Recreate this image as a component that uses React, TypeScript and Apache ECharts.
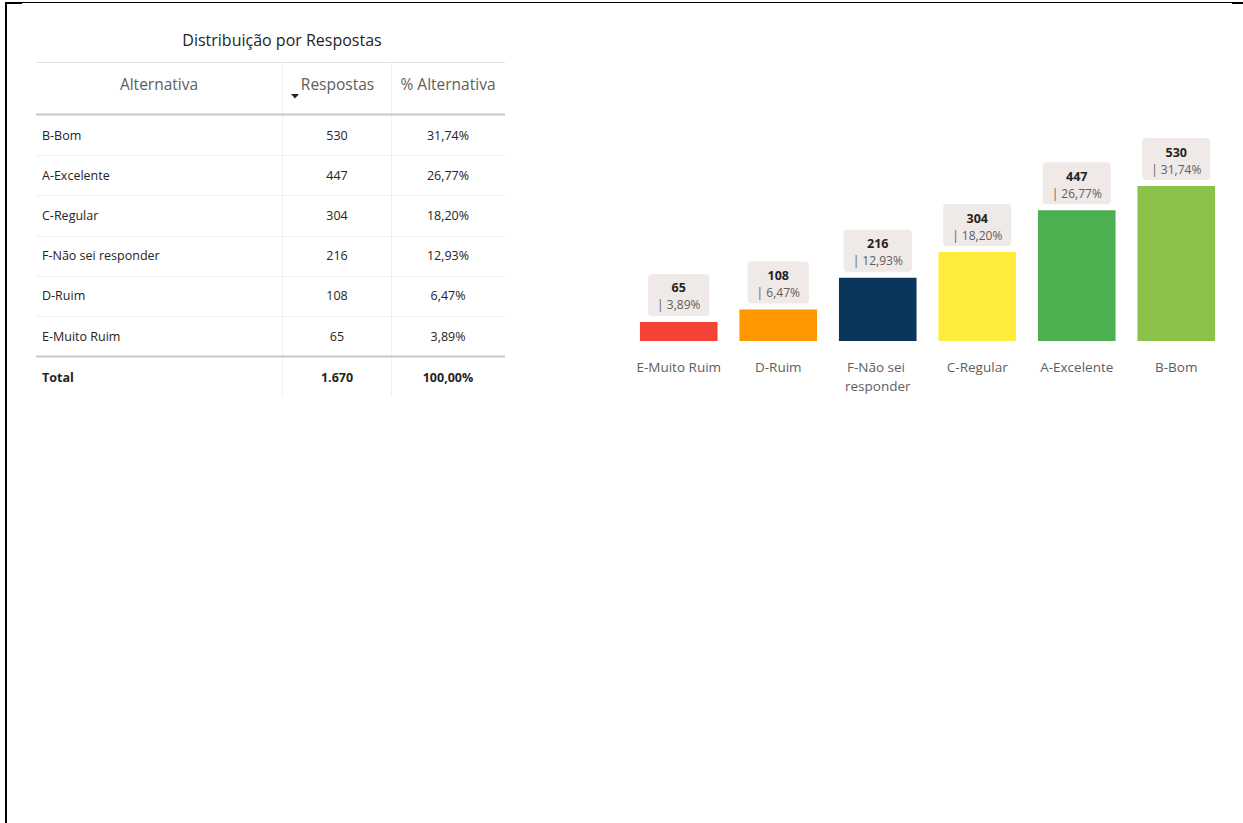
import React, { useEffect, useRef } from "react";
import * as echarts from "echarts";

// Table order (as shown in the table, sorted by responses desc)
const alternatives = ["B-Bom", "A-Excelente", "C-Regular", "F-Não sei responder", "D-Ruim", "E-Muito Ruim"];
const responses = [530, 447, 304, 216, 108, 65];
const responseLabels = ["530", "447", "304", "216", "108", "65"];
const percentLabels = ["31,74%", "26,77%", "18,20%", "12,93%", "6,47%", "3,89%"];
const totalLabel = "1.670";
const totalPercentLabel = "100,00%";
const barColors: Record<string, string> = {
  "E-Muito Ruim": "#F44336",
  "D-Ruim": "#FF9800",
  "F-Não sei responder": "#0B365C",
  "C-Regular": "#FFEB3B",
  "A-Excelente": "#4CAF50",
  "B-Bom": "#8BC34A",
};
const tableTitle = "Distribuição por Respostas";
const headers = ["Alternativa", "Respostas", "% Alternativa"];

const FONT = "'Open Sans', 'Noto Sans', sans-serif";

export default function App() {
  const ref = useRef<HTMLDivElement>(null);
  useEffect(() => {
    if (!ref.current) return;
    const chart = echarts.init(ref.current, undefined, { renderer: "svg" });

    // chart order: ascending by responses
    const idx = alternatives.map((_, i) => i).sort((a, b) => responses[a] - responses[b]);
    const chartCats = idx.map((i) => alternatives[i]);
    const chartData = idx.map((i) => ({
      value: responses[i],
      pct: percentLabels[i],
      itemStyle: { color: barColors[alternatives[i]] },
    }));

    const graphics: any[] = [];
    // page border
    graphics.push({ type: "rect", shape: { x: 5, y: 2, width: 1238, height: 1 }, style: { fill: "#000" } });
    graphics.push({ type: "rect", shape: { x: 5, y: 2, width: 2, height: 821 }, style: { fill: "#000" } });
    graphics.push({ type: "rect", shape: { x: 5, y: 2, width: 17, height: 2 }, style: { fill: "#000" } });
    graphics.push({ type: "rect", shape: { x: 1232, y: 2, width: 11, height: 2 }, style: { fill: "#000" } });

    // table
    const tx0 = 36, tx1 = 505, c1 = 282, c2 = 391;
    graphics.push({
      type: "text", x: 282, y: 40,
      style: { text: tableTitle, font: `16px ${FONT}`, fill: "#252423", align: "center", verticalAlign: "middle" },
    });
    graphics.push({ type: "line", shape: { x1: tx0, y1: 62.5, x2: tx1, y2: 62.5 }, style: { stroke: "#E1E1E1", lineWidth: 1 } });
    graphics.push({ type: "line", shape: { x1: c1 + 0.5, y1: 63, x2: c1 + 0.5, y2: 396 }, style: { stroke: "#F1F1F1", lineWidth: 1 } });
    graphics.push({ type: "line", shape: { x1: c2 + 0.5, y1: 63, x2: c2 + 0.5, y2: 396 }, style: { stroke: "#F1F1F1", lineWidth: 1 } });
    const hx = [(tx0 + c1) / 2, (c1 + c2) / 2 + 1, (c2 + tx1) / 2];
    headers.forEach((h, i) => {
      graphics.push({
        type: "text", x: hx[i], y: 84,
        style: { text: h, font: `15.5px ${FONT}`, fill: "#605E5C", align: "center", verticalAlign: "middle" },
      });
    });
    graphics.push({ type: "polygon", shape: { points: [[291, 94], [299, 94], [295, 98.5]] }, style: { fill: "#252423" } });
    graphics.push({ type: "line", shape: { x1: tx0, y1: 114.5, x2: tx1, y2: 114.5 }, style: { stroke: "#C8C8C8", lineWidth: 2 } });

    const rowH = 40.2;
    alternatives.forEach((a, i) => {
      const cy = 135 + i * rowH;
      graphics.push({
        type: "text", x: 42, y: cy,
        style: { text: a, font: `12.5px ${FONT}`, fill: "#252423", align: "left", verticalAlign: "middle" },
      });
      graphics.push({
        type: "text", x: 337, y: cy,
        style: { text: responseLabels[i], font: `12.5px ${FONT}`, fill: "#252423", align: "center", verticalAlign: "middle" },
      });
      graphics.push({
        type: "text", x: 448, y: cy,
        style: { text: percentLabels[i], font: `12.5px ${FONT}`, fill: "#252423", align: "center", verticalAlign: "middle" },
      });
      if (i < alternatives.length - 1) {
        const ly = Math.round(cy + rowH / 2) + 0.5;
        graphics.push({ type: "line", shape: { x1: tx0, y1: ly, x2: tx1, y2: ly }, style: { stroke: "#F0F0F0", lineWidth: 1 } });
      }
    });
    graphics.push({ type: "line", shape: { x1: tx0, y1: 356.5, x2: tx1, y2: 356.5 }, style: { stroke: "#C8C8C8", lineWidth: 2 } });
    graphics.push({
      type: "text", x: 42, y: 377,
      style: { text: "Total", font: `bold 12.5px ${FONT}`, fill: "#252423", align: "left", verticalAlign: "middle" },
    });
    graphics.push({
      type: "text", x: 337, y: 377,
      style: { text: totalLabel, font: `bold 12.5px ${FONT}`, fill: "#252423", align: "center", verticalAlign: "middle" },
    });
    graphics.push({
      type: "text", x: 448, y: 377,
      style: { text: totalPercentLabel, font: `bold 12.5px ${FONT}`, fill: "#252423", align: "center", verticalAlign: "middle" },
    });

    chart.setOption({
      animation: false,
      backgroundColor: "#FFFFFF",
      textStyle: { fontFamily: FONT },
      grid: { left: 629, right: 17, top: 186, bottom: 482, containLabel: false },
      xAxis: {
        type: "category",
        data: chartCats,
        axisLine: { show: false },
        axisTick: { show: false },
        axisLabel: {
          color: "#605E5C",
          fontSize: 13.5,
          fontFamily: FONT,
          margin: 16,
          lineHeight: 19,
          width: 92,
          overflow: "break",
          interval: 0,
        },
      },
      yAxis: { type: "value", min: 0, max: "dataMax", show: false, splitLine: { show: false } },
      series: [
        {
          type: "bar",
          data: chartData,
          barCategoryGap: "22%",
          label: {
            show: true,
            position: "top",
            distance: 6,
            backgroundColor: "#EFE9E7",
            borderRadius: 4,
            padding: [5, 9, 3, 9],
            formatter: (p: any) => `{v|${p.value}}\n{p|| ${p.data.pct}}`,
            rich: {
              v: { fontSize: 12.5, fontWeight: "bold", color: "#252423", lineHeight: 18, align: "center", fontFamily: FONT },
              p: { fontSize: 12, color: "#605E5C", lineHeight: 16, align: "center", fontFamily: FONT },
            },
          },
        },
      ],
      graphic: graphics,
    });
    return () => chart.dispose();
  }, []);
  return <div ref={ref} style={{ position: "absolute", left: 0, top: 0, width: 1243, height: 823 }} />;
}
